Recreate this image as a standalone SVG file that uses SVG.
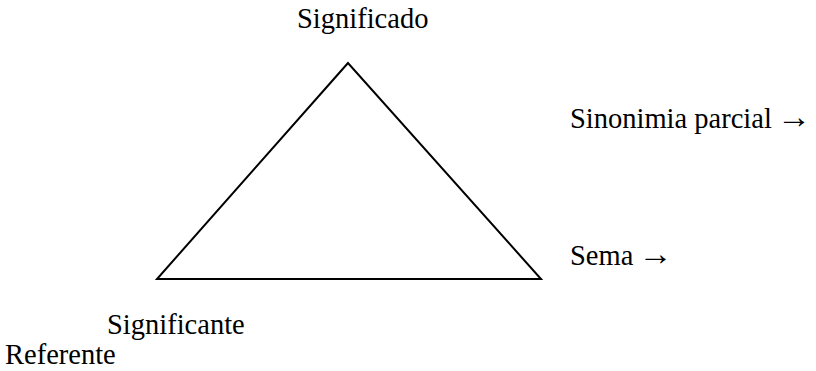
<svg xmlns="http://www.w3.org/2000/svg" width="816" height="371" viewBox="0 0 816 371">
<style>
.t{font-family:"Liberation Serif","Times New Roman",serif;font-size:28.5px;fill:#000}
.ar{font-size:34px}
.edge{fill:none;stroke:#000;stroke-width:2}
</style>
<rect width="816" height="371" fill="#fff"/>
<g id="connectors">
<polygon class="edge" points="348,63 157,279 541,279"/>
</g>
<g id="significado"><text class="t" x="297" y="28">Significado</text></g>
<g id="sinonimia"><text class="t" x="570" y="128">Sinonimia parcial <tspan class="ar" dx="-2">→</tspan></text></g>
<g id="sema"><text class="t" x="570" y="265">Sema <tspan class="ar" dx="-2">→</tspan></text></g>
<g id="significante"><text class="t" x="107" y="334">Significante</text></g>
<g id="referente"><text class="t" x="5" y="364">Referente</text></g>
</svg>
